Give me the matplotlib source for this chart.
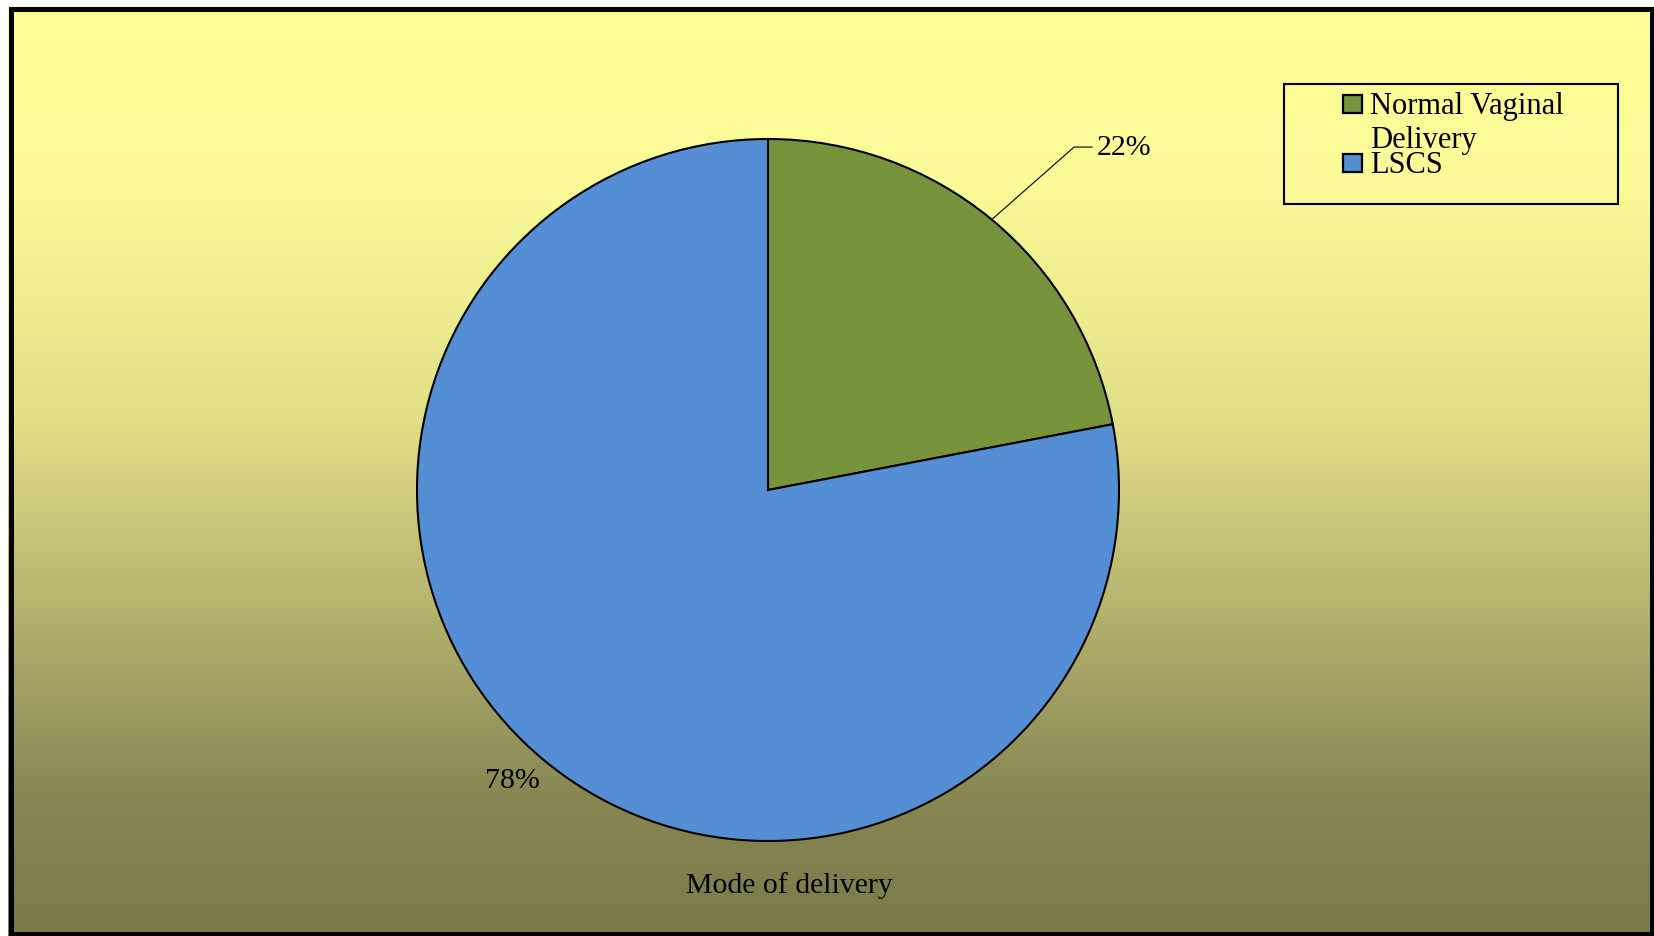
import textwrap
import numpy as np
import matplotlib
matplotlib.use("Agg")
import matplotlib.pyplot as plt
from matplotlib.patches import Rectangle
from matplotlib.colors import LinearSegmentedColormap

# Data
categories = ["Normal Vaginal Delivery", "LSCS"]
values = [22, 78]
colors = ["#77933C", "#558ED5"]
title = "Mode of delivery"

W, H = 1654, 937
DPI = 100
plt.rcParams["font.family"] = ["Liberation Serif", "DejaVu Serif"]
FS = 21.5
FS_LEG = 22

fig = plt.figure(figsize=(W / DPI, H / DPI), dpi=DPI)
fig.patch.set_facecolor("white")


def fx(px):
    return px / W


def fy(py):
    return 1 - py / H


# Vertical gradient background
bg = fig.add_axes([fx(8), fy(937), fx(W - 8), (937 - 7) / H])
bg.set_axis_off()
grad_cmap = LinearSegmentedColormap.from_list(
    "bg",
    [(0.0, (1.0, 1.0, 0.60)),
     (0.2, (0.98, 0.98, 0.59)),
     (0.45, (0.88, 0.87, 0.53)),
     (0.65, (0.71, 0.70, 0.43)),
     (0.85, (0.53, 0.53, 0.33)),
     (1.0, (0.48, 0.48, 0.29))],
)
gradient = np.linspace(0, 1, 512).reshape(-1, 1)
bg.imshow(gradient, aspect="auto", cmap=grad_cmap, extent=[0, 1, 0, 1], origin="upper")
bg.set_xlim(0, 1)
bg.set_ylim(0, 1)

# Outer frame
frame_ax = fig.add_axes([0, 0, 1, 1])
frame_ax.set_axis_off()
frame_ax.set_xlim(0, W)
frame_ax.set_ylim(H, 0)
frame_ax.add_patch(Rectangle((10.5, 9.5), 1652 - 10.5, 934.5 - 9.5,
                             fill=False, edgecolor="black", linewidth=3.6))

# Pie
cx, cy, r = 768, 491, 351
pie_ax = fig.add_axes([fx(cx - r), fy(cy + r), 2 * r / W, 2 * r / H])
pie_ax.set_axis_off()
wedges, _ = pie_ax.pie(values, colors=colors, startangle=90, counterclock=False,
                       radius=1.0,
                       wedgeprops=dict(edgecolor="black", linewidth=1.5))
pie_ax.set_xlim(-1, 1)
pie_ax.set_ylim(-1, 1)
pie_ax.set_aspect("equal")

total = sum(values)
pct = [f"{v / total * 100:.0f}%" for v in values]

# First slice label with leader line
theta1 = wedges[0].theta1
theta2 = wedges[0].theta2
mid = np.deg2rad((theta1 + theta2) / 2)
p0 = (np.cos(mid), np.sin(mid))
elbow = (0.872, 0.977)
end = (0.923, 0.977)
pie_ax.plot([p0[0], elbow[0], end[0]], [p0[1], elbow[1], end[1]],
            color="black", linewidth=0.8, clip_on=False)
pie_ax.text(0.937, 0.977, pct[0], ha="left", va="center", fontsize=FS,
            clip_on=False)

# Second slice label
pie_ax.text(-0.729, -0.825, pct[1], ha="center", va="center", fontsize=FS,
            clip_on=False)

# Title below the pie
fig.text(fx(789), fy(893), title, ha="center", va="baseline", fontsize=FS)

# Legend box
frame_ax.add_patch(Rectangle((1284, 85), 1618 - 1284, 205 - 85, fill=False,
                             edgecolor="black", linewidth=1.5))
entry_tops = [96, 155]
for label, color, top in zip(categories, colors, entry_tops):
    frame_ax.add_patch(Rectangle((1343, top), 19, 18, facecolor=color,
                                 edgecolor="black", linewidth=1.6))
    lines = textwrap.wrap(label, 15)
    for i, line in enumerate(lines):
        frame_ax.text(1370, top + 18 + i * 34, line, ha="left", va="baseline",
                      fontsize=FS_LEG)

fig.savefig("out.png", dpi=DPI)
